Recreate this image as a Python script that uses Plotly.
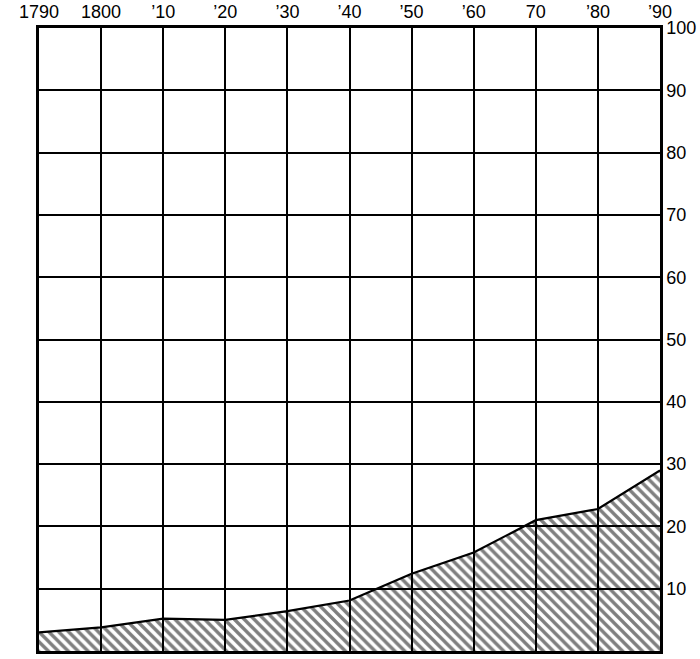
import plotly.graph_objects as go

years = [1790, 1800, 1810, 1820, 1830, 1840, 1850, 1860, 1870, 1880, 1890]
percent = [3.0, 3.8, 5.2, 5.0, 6.4, 8.1, 12.4, 15.8, 21.0, 22.8, 29.0]
year_labels = ["1790", "1800", "’10", "’20", "’30", "’40", "’50", "’60", "70", "’80", "’90"]
pct_ticks = [10, 20, 30, 40, 50, 60, 70, 80, 90, 100]
pct_labels = [str(v) for v in pct_ticks]

fig = go.Figure()
fig.add_trace(go.Scatter(
    x=years, y=percent, mode="lines", fill="tozeroy",
    line=dict(color="black", width=2.2),
    fillcolor="rgba(0,0,0,0)",
    fillpattern=dict(shape="\\", size=7, solidity=0.48,
                     fgcolor="black", bgcolor="rgba(0,0,0,0)"),
    hoverinfo="skip", showlegend=False,
))

fig.update_layout(
    width=700, height=659,
    margin=dict(l=39, r=40, t=28, b=8),
    paper_bgcolor="white", plot_bgcolor="white",
    font=dict(family="Liberation Sans, Arial, sans-serif", size=18, color="black"),
    showlegend=False,
)
fig.update_xaxes(
    range=[1790, 1890], side="top", automargin=False,
    tickmode="array", tickvals=years, ticktext=year_labels,
    showgrid=True, gridcolor="black", gridwidth=1.8,
    showline=True, linecolor="black", linewidth=2.5, mirror=True,
    ticks="", ticklabelstandoff=0, zeroline=False,
)
fig.update_yaxes(
    range=[0, 100], side="right", automargin=False,
    tickmode="array", tickvals=pct_ticks, ticktext=pct_labels,
    showgrid=True, gridcolor="black", gridwidth=1.8,
    showline=True, linecolor="black", linewidth=2.5, mirror=True,
    ticks="", ticklabelstandoff=0, zeroline=False,
)

fig.write_html(
    "out.html",
    config={"displayModeBar": False},
    post_script="document.body.style.margin='0px';document.body.style.padding='0px';",
)
